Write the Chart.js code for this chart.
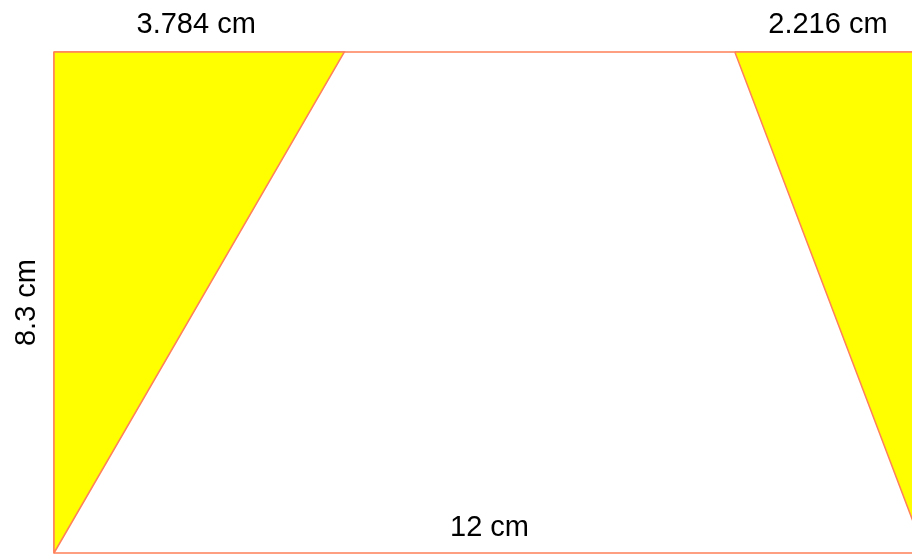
<!DOCTYPE html>
<html>
<head>
<meta charset="utf-8">
<script src="https://cdn.jsdelivr.net/npm/chart.js@4"></script>
<style>
  html, body { margin: 0; padding: 0; background: #fff; overflow: hidden; }
  #wrap { width: 926px; height: 554px; }
</style>
</head>
<body>
<div id="wrap"><canvas id="c" width="926" height="554"></canvas></div>
<script>
// Figure dimensions (axis units, cm)
const widthCm = 12;
const heightCm = 8.3;
// Left shaded triangle
const leftTriX = [0, 0, 4.0, 0];
const leftTriY = [0, 8.3, 8.3, 0];
// Right shaded triangle (right edge lies just beyond the frame)
const rightTriX = [9.38, 12, 12, 9.38];
const rightTriY = [8.3, 8.3, 0, 8.3];
// Outer rectangle
const rectX = [0, 12, 12, 0, 0];
const rectY = [8.3, 8.3, 0, 0, 8.3];
// Dimension labels
const topLeftLabel = '3.784 cm';
const topRightLabel = '2.216 cm';
const bottomLabel = '12 cm';
const sideLabel = '8.3 cm';

const toPts = (xs, ys) => xs.map((x, i) => ({ x: x, y: ys[i] }));
const stroke = 'rgb(255,128,90)';

const labelPlugin = {
  id: 'dimLabels',
  afterDraw(chart) {
    const ctx = chart.ctx;
    const xs = chart.scales.x, ys = chart.scales.y;
    const top = ys.getPixelForValue(heightCm);
    const bottom = ys.getPixelForValue(0);
    const left = xs.getPixelForValue(0);
    ctx.save();
    ctx.fillStyle = '#000';
    ctx.font = '29px "Liberation Sans", Arial, sans-serif';
    ctx.textAlign = 'center';
    ctx.textBaseline = 'alphabetic';
    ctx.fillText(topLeftLabel, (xs.getPixelForValue(0) + xs.getPixelForValue(leftTriX[2])) / 2 - 3, top - 19);
    ctx.fillText(topRightLabel, (xs.getPixelForValue(rightTriX[0]) + xs.getPixelForValue(widthCm)) / 2 - 2, top - 19);
    ctx.fillText(bottomLabel, (xs.getPixelForValue(0) + xs.getPixelForValue(widthCm)) / 2, bottom - 17);
    ctx.translate(left - 19, (top + bottom) / 2);
    ctx.rotate(-Math.PI / 2);
    ctx.fillText(sideLabel, 0, 0);
    ctx.restore();
  }
};

new Chart(document.getElementById('c'), {
  type: 'scatter',
  data: {
    datasets: [
      { data: toPts(leftTriX, leftTriY), showLine: true, fill: 'shape',
        backgroundColor: '#FFFF00', borderColor: stroke, borderWidth: 1.5, pointRadius: 0, tension: 0 },
      { data: toPts(rightTriX, rightTriY), showLine: true, fill: 'shape',
        backgroundColor: '#FFFF00', borderColor: stroke, borderWidth: 1.5, pointRadius: 0, tension: 0 },
      { data: toPts(rectX, rectY), showLine: true, fill: false,
        borderColor: stroke, borderWidth: 1.5, pointRadius: 0, tension: 0 }
    ]
  },
  options: {
    responsive: false,
    animation: false,
    clip: false,
    layout: { padding: { left: 54, top: 52, right: 1, bottom: 1 } },
    plugins: { legend: { display: false }, tooltip: { enabled: false } },
    scales: {
      x: { type: 'linear', min: 0, max: widthCm, display: false },
      y: { type: 'linear', min: 0, max: heightCm, display: false }
    }
  },
  plugins: [labelPlugin]
});
</script>
</body>
</html>
